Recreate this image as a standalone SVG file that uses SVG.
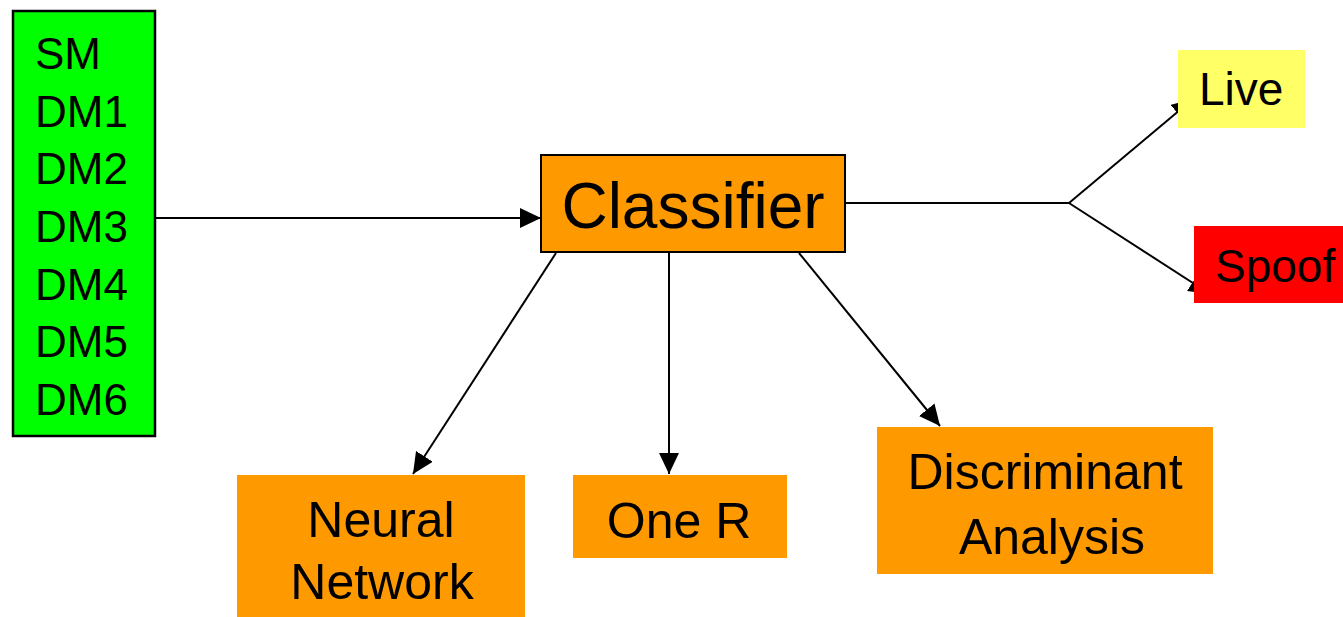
<svg xmlns="http://www.w3.org/2000/svg" width="1343" height="617" viewBox="0 0 1343 617">
  <style>
    .lbl { font-family: "Liberation Sans", Arial, sans-serif; fill: #000; }
    .ctr { text-anchor: middle; }
    .wire { stroke: #000; stroke-width: 2; fill: none; }
    .orange { fill: #FF9900; }
  </style>
  <defs>
    <marker id="head" markerUnits="userSpaceOnUse" markerWidth="22" markerHeight="20" refX="21" refY="10" orient="auto">
      <path d="M0,0 L21,10 L0,20 z" fill="#000"/>
    </marker>
  </defs>

  <rect width="1343" height="617" fill="#fff"/>

  <!-- connectors (drawn first so the output boxes cover their heads) -->
  <g id="connectors">
    <line class="wire" x1="156" y1="218" x2="541" y2="218" marker-end="url(#head)"/>
    <line class="wire" x1="556" y1="253" x2="413" y2="474" marker-end="url(#head)"/>
    <line class="wire" x1="669" y1="253" x2="669" y2="474" marker-end="url(#head)"/>
    <line class="wire" x1="799" y1="253" x2="940" y2="426" marker-end="url(#head)"/>
    <polyline class="wire" points="846,203 1069,203"/>
    <line class="wire" x1="1069" y1="203" x2="1193" y2="99" marker-end="url(#head)"/>
    <line class="wire" x1="1069" y1="203" x2="1210" y2="294" marker-end="url(#head)"/>
  </g>

  <!-- feature list -->
  <g id="features">
    <rect x="13" y="11" width="142" height="425" fill="#00FF00" stroke="#000" stroke-width="2.5"/>
    <text class="lbl" font-size="44" x="35" y="69">SM</text>
    <text class="lbl" font-size="44" x="35" y="126.7">DM1</text>
    <text class="lbl" font-size="44" x="35" y="184.3">DM2</text>
    <text class="lbl" font-size="44" x="35" y="242">DM3</text>
    <text class="lbl" font-size="44" x="35" y="299.7">DM4</text>
    <text class="lbl" font-size="44" x="35" y="357.3">DM5</text>
    <text class="lbl" font-size="44" x="35" y="415">DM6</text>
  </g>

  <!-- classifier -->
  <g id="classifier">
    <rect x="541" y="155" width="304" height="97" class="orange" stroke="#000" stroke-width="2"/>
    <text class="lbl ctr" font-size="64" x="693" y="228">Classifier</text>
  </g>

  <!-- outputs -->
  <g id="live">
    <rect x="1178" y="50" width="127" height="78" fill="#FFFF66"/>
    <text class="lbl" font-size="46" x="1199" y="105">Live</text>
  </g>
  <g id="spoof">
    <rect x="1194" y="226" width="149" height="77" fill="#FF0000"/>
    <text class="lbl" font-size="46" x="1215" y="282">Spoof</text>
  </g>

  <!-- methods -->
  <g id="neural-network">
    <rect x="237" y="475" width="288" height="142" class="orange"/>
    <text class="lbl ctr" font-size="50" x="381" y="537">Neural</text>
    <text class="lbl ctr" font-size="50" x="382" y="599">Network</text>
  </g>
  <g id="one-r">
    <rect x="573" y="475" width="214" height="83" class="orange"/>
    <text class="lbl ctr" font-size="50" x="679" y="538">One R</text>
  </g>
  <g id="discriminant-analysis">
    <rect x="877" y="427" width="336" height="147" class="orange"/>
    <text class="lbl ctr" font-size="50" x="1045" y="489">Discriminant</text>
    <text class="lbl ctr" font-size="50" x="1052" y="554">Analysis</text>
  </g>
</svg>
